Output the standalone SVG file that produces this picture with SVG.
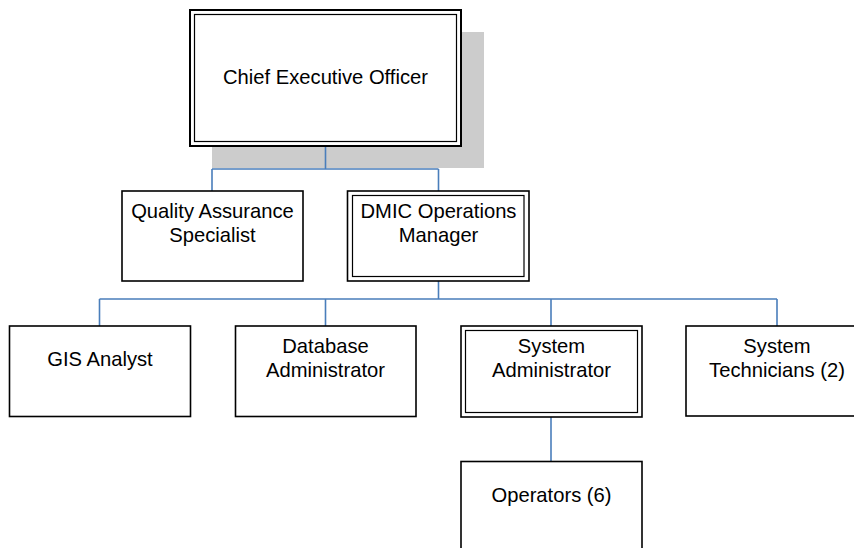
<svg xmlns="http://www.w3.org/2000/svg" width="854" height="548" viewBox="0 0 854 548">
<style>
.box{fill:#fff;stroke:#000;stroke-width:1.6}
.inner{fill:none;stroke:#000;stroke-width:1.2}
.lbl{font-family:"Liberation Sans",Arial,sans-serif;font-size:20.2px;fill:#000;text-anchor:middle}
.conn{fill:none;stroke:#4a7ebb;stroke-width:1.6}
</style>
<rect x="0" y="0" width="854" height="548" fill="#fff"/>
<rect id="ceo-shadow" x="212" y="32" width="272" height="136" fill="#cccccc"/>
<g id="connectors">
<path class="conn" d="M325.5 146V169M212 169H438.5M212 169V191M438.5 169V191"/>
<path class="conn" d="M438.5 281V299M99.5 299H777M99.5 299V326M325.5 299V326M551 299V326M777 299V326"/>
<path class="conn" d="M551 417V461.5"/>
</g>
<g id="ceo">
<rect class="box" x="190" y="10" width="271" height="136" style="stroke-width:2"/>
<rect class="inner" x="194.5" y="14.5" width="262" height="127"/>
<text class="lbl" x="325.5" y="83.5">Chief Executive Officer</text>
</g>
<g id="qa">
<rect class="box" x="122" y="191" width="181" height="90"/>
<text class="lbl" x="212.5" y="218">Quality Assurance</text>
<text class="lbl" x="212.5" y="241.5">Specialist</text>
</g>
<g id="dmic">
<rect class="box" x="347.5" y="191" width="181.5" height="90"/>
<rect class="inner" x="352.5" y="195.5" width="171.5" height="81"/>
<text class="lbl" x="438.5" y="217.5">DMIC Operations</text>
<text class="lbl" x="438.5" y="241.5">Manager</text>
</g>
<g id="gis">
<rect class="box" x="9.5" y="326" width="181" height="90.5"/>
<text class="lbl" x="100" y="366">GIS Analyst</text>
</g>
<g id="dba">
<rect class="box" x="235.5" y="326" width="180.5" height="90.5"/>
<text class="lbl" x="325.5" y="353">Database</text>
<text class="lbl" x="325.5" y="377">Administrator</text>
</g>
<g id="sysadmin">
<rect class="box" x="461" y="326" width="181" height="91"/>
<rect class="inner" x="465.5" y="330.5" width="172" height="82"/>
<text class="lbl" x="551.5" y="353">System</text>
<text class="lbl" x="551.5" y="377">Administrator</text>
</g>
<g id="systech">
<rect class="box" x="686" y="326" width="181" height="90"/>
<text class="lbl" x="777" y="353">System</text>
<text class="lbl" x="777" y="377">Technicians (2)</text>
</g>
<g id="operators">
<rect class="box" x="461" y="461.5" width="181" height="100"/>
<text class="lbl" x="551.5" y="501.5">Operators (6)</text>
</g>
</svg>
